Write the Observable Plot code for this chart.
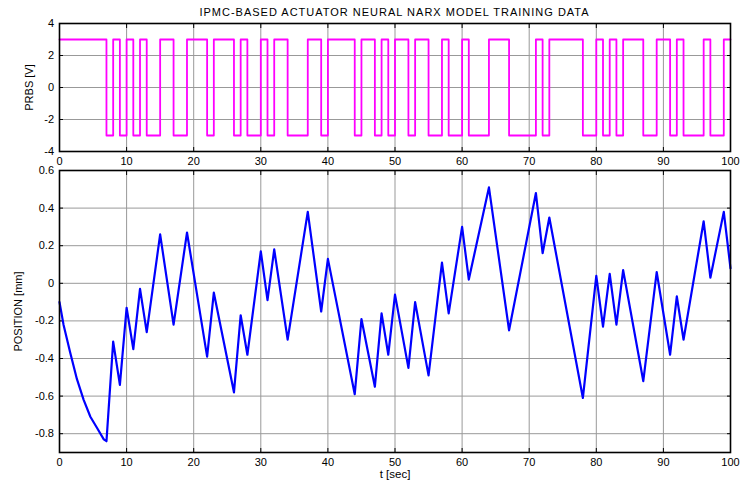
<!DOCTYPE html>
<html>
<head>
<meta charset="utf-8">
<script src="https://cdn.jsdelivr.net/npm/d3@7"></script>
<script src="https://cdn.jsdelivr.net/npm/@observablehq/plot@0.6"></script>
<style>
  body { margin: 0; background: #fff; }
  #chart { position: relative; width: 740px; height: 481px; font-family: "Liberation Sans", Arial, sans-serif; }
  #title { position: absolute; left: 59px; width: 671px; top: 6px; text-align: center; font-size: 11px; letter-spacing: 1px; line-height: 13px; color: #000; white-space: nowrap; }
  .panel { position: absolute; left: 0; }
</style>
</head>
<body>
<div id="chart">
  <div id="title">IPMC-BASED ACTUATOR NEURAL NARX MODEL TRAINING DATA</div>
</div>
<script>
// Axis ticks
const timeTicks = [0, 10, 20, 30, 40, 50, 60, 70, 80, 90, 100];
const prbsTicks = [-4, -2, 0, 2, 4];
const posTicks = [-0.8, -0.6, -0.4, -0.2, 0, 0.2, 0.4, 0.6];

// PRBS input: switching instants [s] and the level held from each one [V]
const prbsT = [0, 7, 8, 9, 10, 11, 12, 13, 15, 17, 19, 22, 23, 26, 27, 28, 30, 31, 32, 34,
  37, 39, 40, 44, 45, 47, 48, 49, 50, 52, 53, 55, 57, 58, 60, 61, 64, 67, 71, 72,
  73, 78, 80, 81, 82, 83, 84, 87, 89, 91, 92, 93, 96, 97, 99, 100];
const prbsV = [3, -3, 3, -3, 3, -3, 3, -3, 3, -3, 3, -3, 3, -3, 3, -3, 3, -3, 3, -3,
  3, -3, 3, -3, 3, -3, 3, -3, 3, -3, 3, -3, 3, -3, 3, -3, 3, -3, 3, -3,
  3, -3, 3, -3, 3, -3, 3, -3, 3, -3, 3, -3, 3, -3, 3, 3];

// Measured actuator tip position
const posT = [0, 0.6, 1.6, 2.6, 3.6, 4.6, 5.6, 6.6, 7, 8, 9, 10, 11, 12, 13, 15, 17, 19, 22, 23,
  26, 27, 28, 30, 31, 32, 34, 37, 39, 40, 44, 45, 47, 48, 49, 50, 52, 53, 55, 57,
  58, 60, 61, 64, 67, 71, 72, 73, 78, 80, 81, 82, 83, 84, 87, 89, 91, 92, 93, 96,
  97, 99, 100];
const posV = [-0.10, -0.22, -0.37, -0.51, -0.62, -0.71, -0.77, -0.83, -0.84, -0.31, -0.54, -0.13, -0.35, -0.03, -0.26, 0.26, -0.22, 0.27, -0.39, -0.05,
  -0.58, -0.17, -0.38, 0.17, -0.09, 0.18, -0.30, 0.38, -0.15, 0.13, -0.59, -0.19, -0.55, -0.16, -0.38, -0.06, -0.45, -0.10, -0.49, 0.11,
  -0.16, 0.30, 0.02, 0.51, -0.25, 0.48, 0.16, 0.35, -0.61, 0.04, -0.23, 0.05, -0.22, 0.07, -0.52, 0.06, -0.38, -0.07, -0.30, 0.33,
  0.03, 0.38, 0.08];

const prbsRows = prbsT.map((t, i) => ({t, v: prbsV[i]}));
const posRows = posT.map((t, i) => ({t, v: posV[i]}));

const blank = () => "";
const gridStyle = {stroke: "#999", strokeOpacity: 1, strokeWidth: 1};

// Boxed MATLAB-style axes: grid, inward ticks on all four sides
function boxAxes(yTicks, yLabel, yLabelOffset, xLabel) {
  return [
    Plot.gridX(timeTicks, gridStyle),
    Plot.gridY(yTicks, gridStyle),
    Plot.axisX(timeTicks, {anchor: "bottom", tickSize: -4, tickPadding: 10, tickFormat: String, label: null}),
    Plot.axisX({anchor: "bottom", ticks: [], label: xLabel, labelAnchor: "center", labelArrow: "none",
      labelOffset: 25, fontSize: "11.5px"}),
    Plot.axisX(timeTicks, {anchor: "top", tickSize: -4, tickFormat: blank, label: null}),
    Plot.axisY(yTicks, {anchor: "left", tickSize: -4, tickPadding: 9.5, tickFormat: String,
      label: yLabel, labelAnchor: "center", labelArrow: "none", labelOffset: yLabelOffset}),
    Plot.axisY(yTicks, {anchor: "right", tickSize: -4, tickFormat: blank, label: null})
  ];
}

const common = {
  width: 740,
  marginLeft: 59,
  marginRight: 10,
  style: {background: "transparent", fontFamily: "Liberation Sans, Arial, sans-serif", fontSize: "11px", color: "#000", overflow: "visible"}
};

const prbsPlot = Plot.plot({
  ...common,
  height: 165,
  marginTop: 23,
  marginBottom: 14,
  x: {domain: [0, 100]},
  y: {domain: [-4, 4]},
  marks: [
    ...boxAxes(prbsTicks, "PRBS [V]", 34, null),
    Plot.line(prbsRows, {x: "t", y: "v", curve: "step-after", stroke: "#ff00ff", strokeWidth: 1.8}),
    Plot.frame({stroke: "#000", strokeWidth: 1.6})
  ]
});

const posPlot = Plot.plot({
  ...common,
  height: 316,
  marginTop: 5,
  marginBottom: 29,
  x: {domain: [0, 100]},
  y: {domain: [-0.9, 0.6]},
  marks: [
    ...boxAxes(posTicks, "POSITION [mm]", 45, "t [sec]"),
    Plot.line(posRows, {x: "t", y: "v", stroke: "#0000ff", strokeWidth: 2.2}),
    Plot.frame({stroke: "#000", strokeWidth: 1.6})
  ]
});

prbsPlot.classList.add("panel");
prbsPlot.style.top = "0px";
posPlot.classList.add("panel");
posPlot.style.top = "165px";
const chart = document.getElementById("chart");
chart.appendChild(prbsPlot);
chart.appendChild(posPlot);
</script>
</body>
</html>
